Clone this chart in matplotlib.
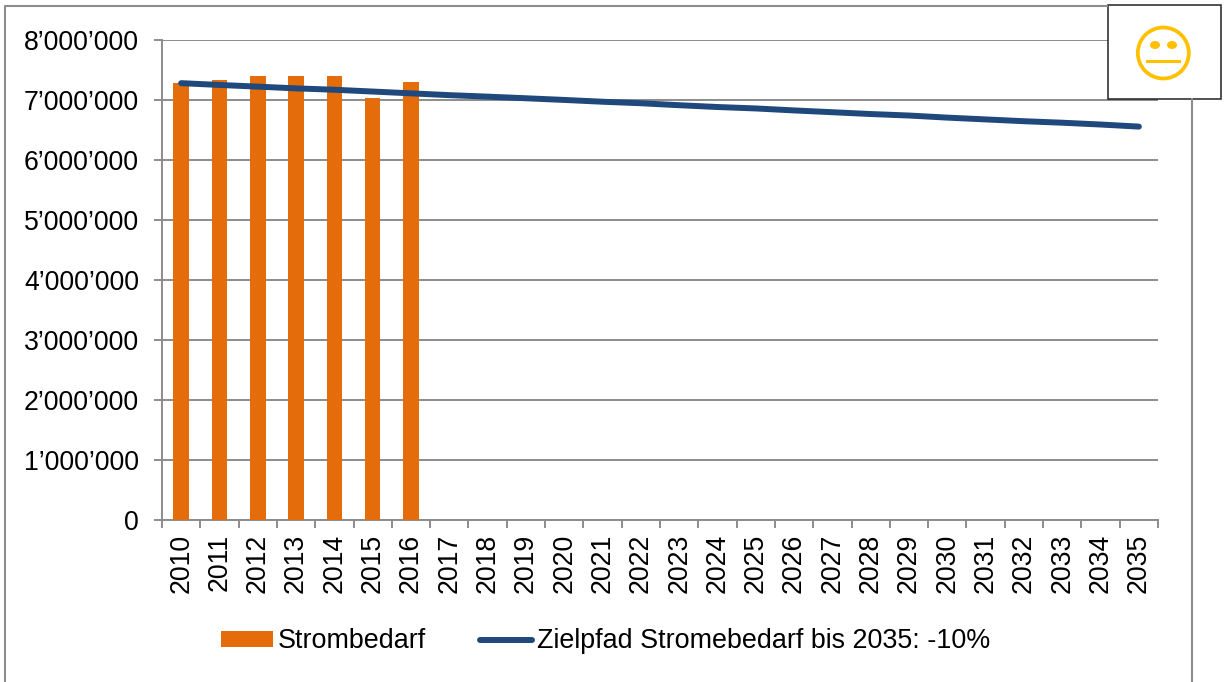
import matplotlib
matplotlib.use("Agg")
import matplotlib.pyplot as plt
from matplotlib.lines import Line2D
from matplotlib.patches import Rectangle, Circle, Ellipse
from matplotlib.ticker import FixedLocator, NullFormatter

years = list(range(2010, 2036))
bar_years = [2010, 2011, 2012, 2013, 2014, 2015, 2016]
strombedarf = [7280000, 7330000, 7400000, 7400000, 7400000, 7035000, 7300000]
zielpfad = [7280000, 7250000, 7222000, 7193000, 7170000, 7140000, 7110000, 7080000,
            7055000, 7028000, 7000000, 6970000, 6945000, 6912000, 6882000, 6858000,
            6825000, 6795000, 6765000, 6740000, 6705000, 6675000, 6645000, 6620000,
            6590000, 6555000]
y_ticks = [0, 1000000, 2000000, 3000000, 4000000, 5000000, 6000000, 7000000, 8000000]
y_labels = ["0", "1’000’000", "2’000’000", "3’000’000", "4’000’000",
            "5’000’000", "6’000’000", "7’000’000", "8’000’000"]
series_names = ["Strombedarf", "Zielpfad Stromebedarf bis 2035: -10%"]

W, H = 1224, 682
ORANGE, NAVY, GREY = "#E46C0A", "#1F497D", "#8C8C8C"
plt.rcParams["font.family"] = ["Liberation Sans", "DejaVu Sans"]
FS = 19.2

fig = plt.figure(figsize=(W / 100, H / 100), dpi=100, facecolor="white")
L, R, T, B = 162, 1158, 40, 519.5
ax = fig.add_axes([L / W, 1 - B / H, (R - L) / W, (B - T) / H])

bars = ax.bar(bar_years, strombedarf, width=0.405, color=ORANGE, zorder=3, label=series_names[0])
line, = ax.plot(years, zielpfad, color=NAVY, lw=4.3, solid_capstyle="round", zorder=4, label=series_names[1])

ax.set_xlim(2009.5, 2035.5)
ax.set_ylim(0, 8000000)
ax.set_yticks(y_ticks, y_labels, fontsize=FS)
ax.set_xticks(years, [str(y) for y in years], rotation=90, fontsize=FS)
ax.xaxis.set_minor_locator(FixedLocator([y - 0.5 for y in years] + [2035.5]))
ax.xaxis.set_minor_formatter(NullFormatter())
ax.tick_params(axis="x", which="major", length=0, pad=10)
ax.tick_params(axis="x", which="minor", length=5.5, width=1.4, color=GREY)
ax.tick_params(axis="y", length=5.5, width=1.4, color=GREY, pad=11)
ax.yaxis.grid(True, color=GREY, lw=1.4, zorder=1)
ax.set_axisbelow(True)
for s in ("top", "right"):
    ax.spines[s].set_visible(False)
for s in ("left", "bottom"):
    ax.spines[s].set_color(GREY)
    ax.spines[s].set_linewidth(1.4)

leg = ax.legend(handles=[bars, line], labels=series_names,
                loc="center left", bbox_to_anchor=(221 / W, 1 - 641.5 / H),
                bbox_transform=fig.transFigure, ncol=2, frameon=False, fontsize=19.4,
                handlelength=1.93, handleheight=0.53, handletextpad=0.19,
                columnspacing=1.98, borderpad=0, borderaxespad=0)

ov = fig.add_axes([0, 0, 1, 1], zorder=10)
ov.set_xlim(0, W)
ov.set_ylim(H, 0)
ov.axis("off")
ov.patch.set_alpha(0)
ov.add_line(Line2D([5, 5, 1107], [H, 5.5, 5.5], color=GREY, lw=1.5))
ov.add_line(Line2D([1192, 1192], [99, H], color=GREY, lw=1.5))
ov.add_patch(Rectangle((1107.5, 4.5), 113.5, 94.5, fc="white", ec="#222222", lw=1.1))
ov.add_patch(Circle((1163.3, 53), 25.5, fc="none", ec="#FFC000", lw=2.7))
ov.add_patch(Ellipse((1155, 45), 10, 8, fc="#FFC000", ec="none"))
ov.add_patch(Ellipse((1172, 45), 10, 8, fc="#FFC000", ec="none"))
ov.add_line(Line2D([1147, 1179], [61, 61], color="#FFC000", lw=2.2))

fig.savefig("out.png", dpi=100, facecolor="white")
